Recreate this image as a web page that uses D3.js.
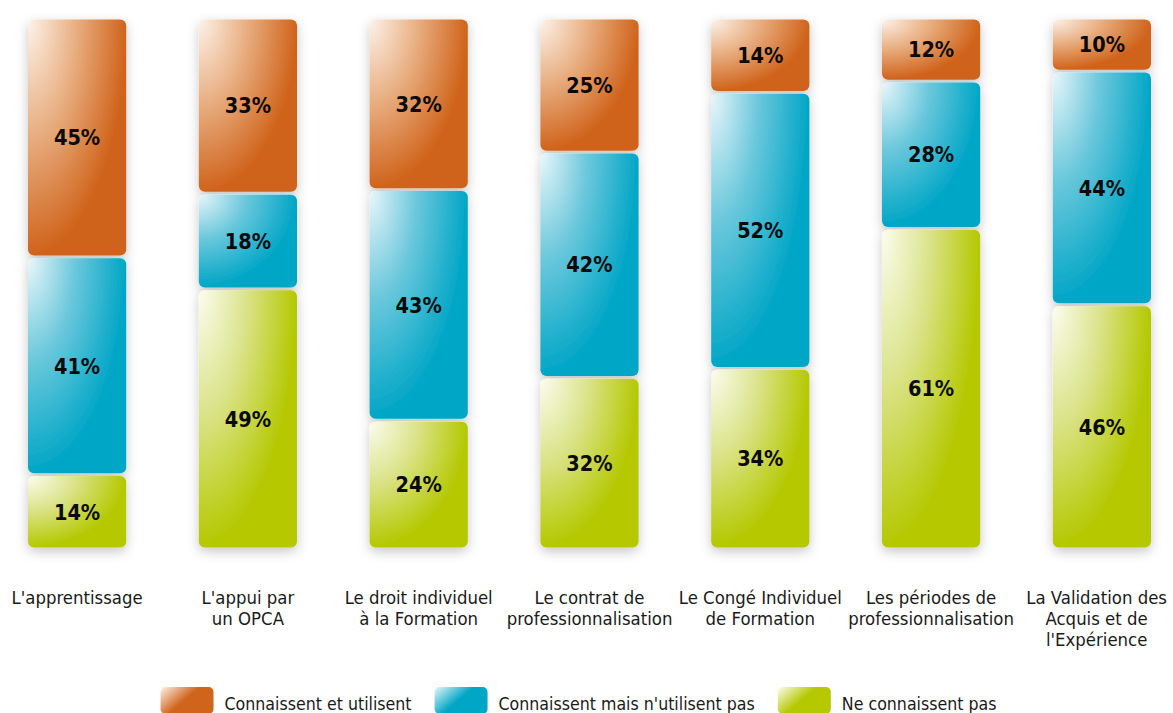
<!DOCTYPE html>
<html>
<head>
<meta charset="utf-8">
<script src="https://cdn.jsdelivr.net/npm/d3@7"></script>
<style>
  html, body { margin: 0; padding: 0; background: #fff; }
  svg { display: block; }
</style>
</head>
<body>
<div id="chart"></div>
<script>
// Dispositifs de formation : connaissance et utilisation
const categories = ["app", "opca", "dif", "cp", "cif", "pp", "vae"];
const categoryLabels = [
    ["L'apprentissage"],
    ["L'appui par", "un OPCA"],
    ["Le droit individuel", "à la Formation"],
    ["Le contrat de", "professionnalisation"],
    ["Le Congé Individuel", "de Formation"],
    ["Les périodes de", "professionnalisation"],
    ["La Validation des", "Acquis et de", "l'Expérience"]
];
const connaissentUtilisent = [45, 33, 32, 25, 14, 12, 10];
const connaissentNUtilisentPas = [41, 18, 43, 42, 52, 28, 44];
const neConnaissentPas = [14, 49, 24, 32, 34, 61, 46];
const seriesKeys = ["nc", "cnu", "cu"];   // bottom to top
const seriesNames = {
    cu: "Connaissent et utilisent",
    cnu: "Connaissent mais n'utilisent pas",
    nc: "Ne connaissent pas"
};
const legendOrder = ["cu", "cnu", "nc"];

const width = 1173, height = 713;
const colors = {
    cu: { light: '#fdf3ea', mid: '#e9b185', dark: '#d0641c' },
    cnu: { light: '#eaf7fa', mid: '#6cc8dc', dark: '#00a6c6' },
    nc: { light: '#fcfdef', mid: '#dbe48c', dark: '#b5c800' }
};

const rows = categories.map((c, i) => ({
    cat: c,
    cu: connaissentUtilisent[i],
    cnu: connaissentNUtilisentPas[i],
    nc: neConnaissentPas[i]
}));

const stacked = d3.stack()
    .keys(seriesKeys)
    .offset(d3.stackOffsetExpand)(rows);

const svg = d3.select('#chart')
    .append('svg')
    .attr('width', width)
    .attr('height', height);

const defs = svg.append('defs');

const shadow = defs.append('filter')
    .attr('id', 'shadow')
    .attr('x', '-30%').attr('y', '-10%')
    .attr('width', '160%').attr('height', '120%');
shadow.append('feDropShadow')
    .attr('dx', 0).attr('dy', 4)
    .attr('stdDeviation', 6)
    .attr('flood-color', '#000')
    .attr('flood-opacity', 0.22);

// radial gradients, light in the top-left corner
Object.keys(colors).forEach(k => {
    const grad = defs.append('radialGradient')
        .attr('id', 'grad-' + k)
        .attr('cx', 0).attr('cy', 0)
        .attr('fx', 0).attr('fy', 0)
        .attr('r', 1.05);
    grad.append('stop').attr('offset', '0%').attr('stop-color', colors[k].light);
    grad.append('stop').attr('offset', '45%').attr('stop-color', colors[k].mid);
    grad.append('stop').attr('offset', '95%').attr('stop-color', colors[k].dark);

    const lg = defs.append('linearGradient')
        .attr('id', 'leg-' + k)
        .attr('x1', 0).attr('y1', 0)
        .attr('x2', 1).attr('y2', 0.6);
    lg.append('stop').attr('offset', '0%').attr('stop-color', colors[k].light);
    lg.append('stop').attr('offset', '55%').attr('stop-color', colors[k].dark);
    lg.append('stop').attr('offset', '100%').attr('stop-color', colors[k].dark);
});

const xScale = d3.scaleBand()
    .domain(categories)
    .range([28, 1151])
    .paddingInner(0.425)
    .paddingOuter(0);

const yScale = d3.scaleLinear()
    .domain([0, 1])
    .range([549, 18]);

const gap = 1.4;
const barsG = svg.append('g').attr('filter', 'url(#shadow)');

stacked.forEach(layer => {
    const key = layer.key;
    barsG.selectAll('.seg-' + key)
        .data(layer)
        .enter()
        .append('rect')
        .attr('class', 'seg-' + key)
        .attr('x', d => xScale(d.data.cat))
        .attr('y', d => yScale(d[1]) + gap)
        .attr('width', xScale.bandwidth())
        .attr('height', d => yScale(d[0]) - yScale(d[1]) - 2 * gap)
        .attr('rx', 6)
        .attr('fill', `url(#grad-${key})`);
});

// value labels
stacked.forEach(layer => {
    const key = layer.key;
    svg.selectAll('.val-' + key)
        .data(layer)
        .enter()
        .append('text')
        .attr('class', 'val-' + key)
        .attr('x', d => xScale(d.data.cat) + xScale.bandwidth() / 2)
        .attr('y', d => (yScale(d[0]) + yScale(d[1])) / 2)
        .attr('dy', '0.36em')
        .attr('text-anchor', 'middle')
        .style('font-family', '"DejaVu Sans Condensed", "DejaVu Sans", sans-serif')
        .style('font-stretch', 'condensed')
        .style('font-weight', 'bold')
        .style('font-size', '21.5px')
        .style('fill', '#0a0a0a')
        .text(d => d.data[key] + '%');
});

// category labels
const xLabels = svg.append('g')
    .style('font-family', '"DejaVu Sans Condensed", "DejaVu Sans", sans-serif')
    .style('font-stretch', 'condensed')
    .style('font-size', '18.4px')
    .style('fill', '#1a1a1a');

categories.forEach((c, i) => {
    const t = xLabels.append('text')
        .attr('text-anchor', 'middle')
        .attr('y', 604);
    categoryLabels[i].forEach((line, j) => {
        t.append('tspan')
            .attr('x', xScale(c) + xScale.bandwidth() / 2)
            .attr('dy', j === 0 ? 0 : 21)
            .text(line);
    });
    // keep labels inside the canvas
    const bb = t.node().getBBox();
    if (bb.x + bb.width > width - 6) {
        t.attr('transform', `translate(${width - 6 - bb.x - bb.width},0)`);
    }
});

// legend
const legend = svg.append('g')
    .style('font-family', '"DejaVu Sans Condensed", "DejaVu Sans", sans-serif')
    .style('font-stretch', 'condensed')
    .style('font-size', '17.6px')
    .style('fill', '#1a1a1a');

let lx = 0;
const swW = 53, swH = 27;
legendOrder.forEach(k => {
    const item = legend.append('g').attr('transform', `translate(${lx},0)`);
    item.append('rect')
        .attr('x', 0).attr('y', 687)
        .attr('width', swW).attr('height', swH)
        .attr('rx', 5)
        .attr('fill', `url(#leg-${k})`);
    const txt = item.append('text')
        .attr('x', swW + 11)
        .attr('y', 710)
        .text(seriesNames[k]);
    lx += swW + 11 + txt.node().getComputedTextLength() + 23;
});
const legW = lx - 23;
legend.attr('transform', `translate(${(width - legW) / 2 - 8},0)`);
</script>
</body>
</html>
